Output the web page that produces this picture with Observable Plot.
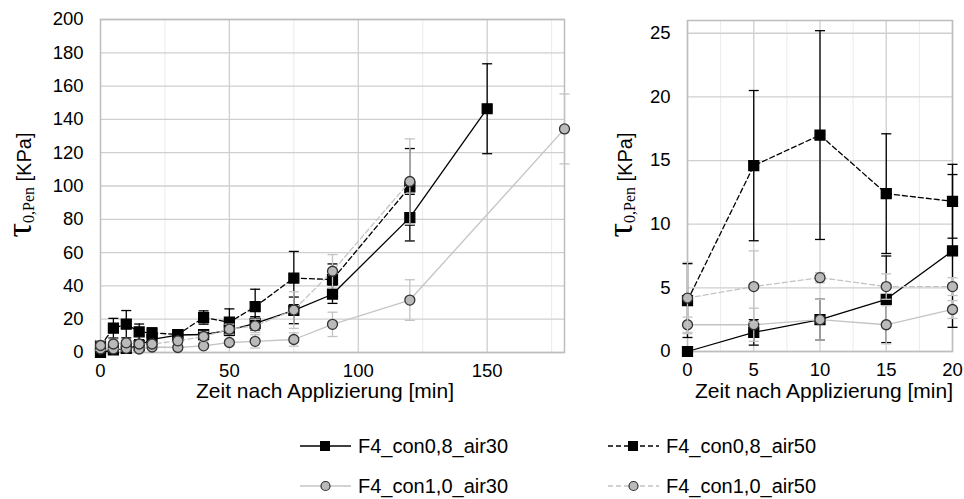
<!DOCTYPE html>
<html><head><meta charset="utf-8">
<script src="https://cdn.jsdelivr.net/npm/d3@7"></script>
<script src="https://cdn.jsdelivr.net/npm/@observablehq/plot@0.6"></script>
<style>
body{margin:0;background:#fff;}
#c{position:relative;width:964px;height:499px;overflow:hidden;font-family:"Liberation Sans",Arial,sans-serif;}
#c svg{position:absolute;overflow:visible;}
</style></head><body><div id="c"></div>
<script>
// ---- data ----
const seriesNames = ["F4_con0,8_air30", "F4_con0,8_air50", "F4_con1,0_air30", "F4_con1,0_air50"];
const timesA = [0, 5, 10, 15, 20, 30, 40, 50, 60, 75, 90, 120, 150];
const valuesA = [0, 1.5, 2.5, 4.1, 7.9, 10.5, 10.8, 13.4, 17.5, 25.3, 35.0, 81.0, 146.4];
const errorsA = [0, 1.0, 1.6, 3.4, 6.0, 2.0, 2.0, 3.0, 4.0, 8.0, 5.5, 14.0, 27.0];
const timesB = [0, 5, 10, 15, 20, 30, 40, 50, 60, 75, 90, 120];
const valuesB = [4.0, 14.6, 17.0, 12.4, 11.8, 10.8, 21.0, 18.2, 27.5, 44.7, 43.8, 99.5];
const errorsB = [2.9, 5.9, 8.2, 4.7, 2.9, 1.5, 4.0, 8.0, 10.5, 16.0, 9.4, 23.0];
const timesC = [0, 5, 10, 15, 20, 30, 40, 50, 60, 75, 90, 120, 180];
const valuesC = [2.1, 2.1, 2.5, 2.1, 3.3, 3.0, 4.0, 6.0, 6.7, 7.8, 16.9, 31.5, 134.3];
const errorsC = [0.6, 1.3, 1.6, 1.5, 0.7, 1.0, 1.0, 1.0, 4.0, 4.0, 7.3, 12.2, 21.0];
const timesD = [0, 5, 10, 15, 20, 30, 40, 50, 60, 75, 90, 120];
const valuesD = [4.2, 5.1, 5.8, 5.1, 5.1, 7.0, 9.6, 14.0, 16.0, 25.5, 48.8, 102.7];
const errorsD = [2.8, 2.8, 0.4, 1.0, 0.7, 1.5, 3.0, 3.0, 4.0, 11.0, 10.0, 25.6];
const leftXTicks = [0, 50, 100, 150];
const leftYTicks = [0, 20, 40, 60, 80, 100, 120, 140, 160, 180, 200];
const rightXTicks = [0, 5, 10, 15, 20];
const rightYTicks = [0, 5, 10, 15, 20, 25];
const xTitle = "Zeit nach Applizierung [min]";

// ---- build ----
const raw = [[timesA, valuesA, errorsA], [timesB, valuesB, errorsB], [timesC, valuesC, errorsC], [timesD, valuesD, errorsD]];
const styles = [
  {line: "#000", dash: null, sym: "square", fill: "#000", sstroke: "#000", err: "#000"},
  {line: "#000", dash: "5,3", sym: "square", fill: "#000", sstroke: "#000", err: "#000"},
  {line: "#c4c4c4", dash: null, sym: "circle", fill: "#bababa", sstroke: "#333", err: "#c4c4c4"},
  {line: "#c4c4c4", dash: "5,3", sym: "circle", fill: "#bababa", sstroke: "#333", err: "#c4c4c4"}
];
const series = raw.map(([t, v, e], i) => t.map((tt, j) => ({t: tt, v: v[j], e: e[j], s: seriesNames[i]})));
const capSymbol = {draw(ctx, size) { const r = Math.sqrt(size / Math.PI); ctx.moveTo(-r, 0); ctx.lineTo(r, 0); }};

function seriesMarks(maxT) {
  const marks = [];
  series.forEach((data, i) => {
    const st = styles[i];
    const d = data.filter(p => p.t <= maxT);
    const de = d.filter(p => p.e > 0);
    marks.push(Plot.ruleX(de, {x: "t", y1: p => p.v - p.e, y2: p => p.v + p.e, stroke: st.err, strokeWidth: 1.3}));
    marks.push(Plot.dot(de, {x: "t", y: p => p.v + p.e, symbol: capSymbol, r: 5, stroke: st.err, fill: "none", strokeWidth: 1.3}));
    marks.push(Plot.dot(de, {x: "t", y: p => p.v - p.e, symbol: capSymbol, r: 5, stroke: st.err, fill: "none", strokeWidth: 1.3}));
    marks.push(Plot.line(d, {x: "t", y: "v", stroke: st.line, strokeWidth: 1.3, strokeDasharray: st.dash}));
    marks.push(Plot.dot(d, {x: "t", y: "v", symbol: st.sym, r: st.sym === "square" ? 5.6 : 5, fill: st.fill, stroke: st.sstroke, strokeWidth: 1.3}));
  });
  return marks;
}

function yTitle(svg, x, y) {
  const t = d3.select(svg).append("text")
    .attr("transform", `translate(${x},${y}) rotate(-90)`)
    .attr("text-anchor", "middle").attr("fill", "#000");
  t.append("tspan").attr("font-family", "'Liberation Serif','DejaVu Serif',serif").attr("font-size", 36).text("τ");
  t.append("tspan").attr("font-family", "'Liberation Serif','DejaVu Serif',serif").attr("font-size", 16).attr("dy", 3).text("0,Pen");
  t.append("tspan").attr("font-family", "'Liberation Sans',Arial,sans-serif").attr("font-size", 20).attr("dy", -3).text("\u00a0[KPa]");
}
function xTitleText(svg, x, y) {
  d3.select(svg).append("text").attr("x", x).attr("y", y).attr("text-anchor", "middle")
    .attr("font-size", 21).attr("fill", "#000").text(xTitle);
}

const box = document.getElementById("c");
const common = {style: {fontSize: "18.5px", fontFamily: "'Liberation Sans',Arial,sans-serif", color: "#000", background: "transparent"}};

const left = Plot.plot({
  ...common,
  width: 600, height: 400,
  marginLeft: 100, marginRight: 36, marginTop: 19, marginBottom: 48,
  x: {domain: [0, 180], ticks: leftXTicks, tickSize: 0, tickPadding: 11, label: null},
  y: {domain: [0, 200], ticks: leftYTicks, tickSize: 0, tickPadding: 17, label: null},
  marks: [
    Plot.gridX([25, 75, 125, 175], {stroke: "#ebebeb", strokeOpacity: 1}),
    Plot.gridX([50, 100, 150], {stroke: "#cfcfcf", strokeOpacity: 1, strokeWidth: 1.3}),
    Plot.gridY(leftYTicks, {stroke: "#cfcfcf", strokeOpacity: 1, strokeWidth: 1.3}),
    Plot.frame({stroke: "#bdbdbd", strokeWidth: 1.5}),
    ...seriesMarks(1000)
  ]
});
left.style.left = "0px"; left.style.top = "0px";
yTitle(left, 31, 185);
xTitleText(left, 325, 398);
box.appendChild(left);

const right = Plot.plot({
  ...common,
  width: 404, height: 400,
  marginLeft: 127, marginRight: 12, marginTop: 20, marginBottom: 49,
  x: {domain: [0, 20], ticks: rightXTicks, tickSize: 0, tickPadding: 11, label: null},
  y: {domain: [0, 26], ticks: rightYTicks, tickSize: 0, tickPadding: 17, label: null},
  marks: [
    Plot.gridX([2.5, 7.5, 12.5, 17.5], {stroke: "#ebebeb", strokeOpacity: 1}),
    Plot.gridX(rightXTicks, {stroke: "#cfcfcf", strokeOpacity: 1, strokeWidth: 1.3}),
    Plot.gridY(rightYTicks, {stroke: "#cfcfcf", strokeOpacity: 1, strokeWidth: 1.3}),
    Plot.frame({stroke: "#bdbdbd", strokeWidth: 1.5}),
    ...seriesMarks(20)
  ]
});
right.style.left = "560px"; right.style.top = "0px";
yTitle(right, 72, 185);
xTitleText(right, 264, 398);
box.appendChild(right);

// ---- legend ----
const leg = d3.select(box).append("svg").attr("width", 964).attr("height", 99)
  .style("left", "0px").style("top", "400px");
const legPos = [[300, 46], [608, 46], [300, 86], [608, 86]];
seriesNames.forEach((name, i) => {
  const st = styles[i];
  const [x, y] = legPos[i];
  const g = leg.append("g").attr("transform", `translate(${x},${y})`);
  g.append("line").attr("x1", 0).attr("x2", 51).attr("y1", 0).attr("y2", 0)
    .attr("stroke", st.line).attr("stroke-width", 1.3).attr("stroke-dasharray", st.dash);
  if (st.sym === "square") g.append("rect").attr("x", 20.5).attr("y", -4.5).attr("width", 9).attr("height", 9).attr("fill", st.fill).attr("stroke", st.sstroke);
  else g.append("circle").attr("cx", 25.5).attr("cy", 0).attr("r", 4.5).attr("fill", st.fill).attr("stroke", st.sstroke).attr("stroke-width", 1.2);
  g.append("text").attr("x", 58).attr("y", 0).attr("dy", "0.35em").attr("font-size", 20)
    .attr("font-family", "'Liberation Sans',Arial,sans-serif").attr("fill", "#000").text(name);
});
</script></body></html>
